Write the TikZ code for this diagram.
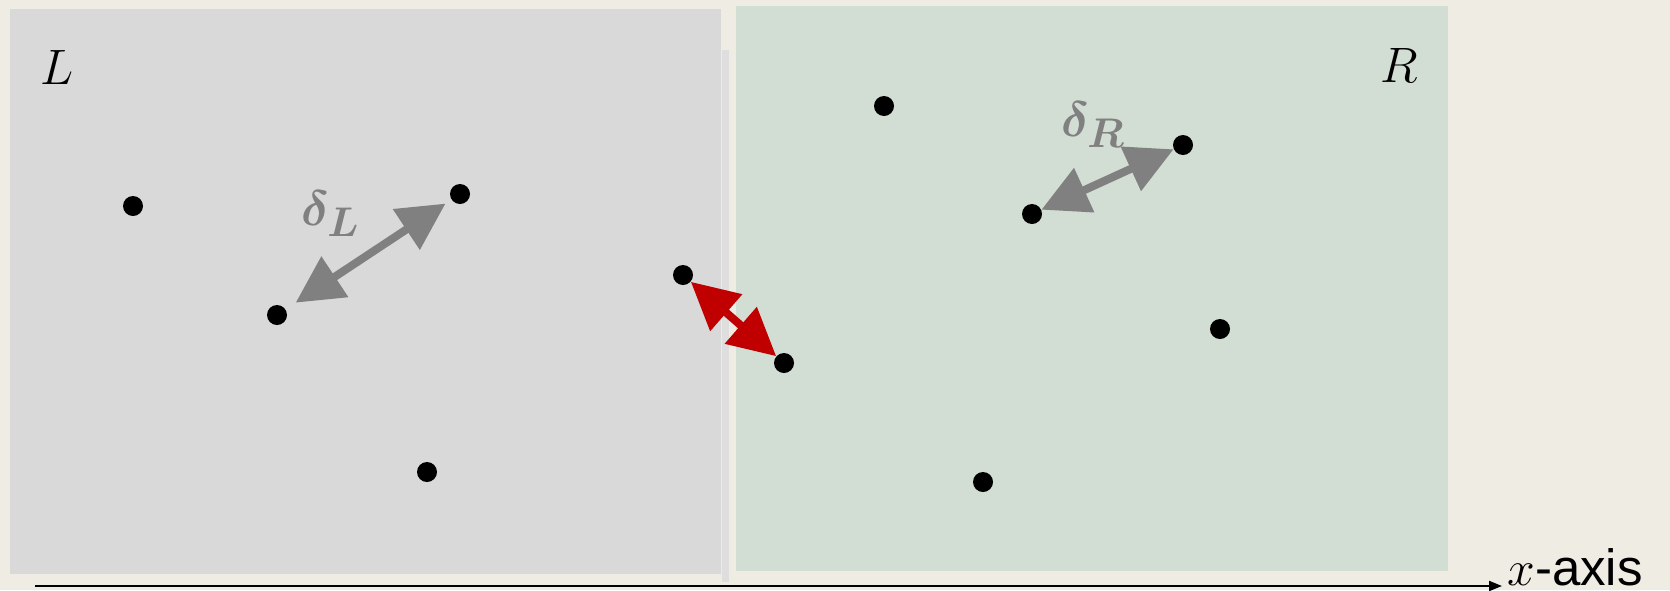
\documentclass[tikz,border=0pt]{standalone}
\usepackage{fontspec}
\setsansfont{Liberation Sans}
\usepackage{bm}
\usetikzlibrary{arrows.meta,positioning}
\definecolor{cpbg}{HTML}{EFECE4}
\definecolor{cpleft}{HTML}{D9D9D9}
\definecolor{cpright}{HTML}{D2DDD3}
\definecolor{cpstrip}{HTML}{DEDEDE}
\definecolor{cpgray}{HTML}{808080}
\definecolor{cpred}{HTML}{C00000}
\tikzset{
  cp dot/.style={circle, fill=black, inner sep=0pt, minimum size=10pt},
  cp dist/.style={{Triangle[length=23.5pt,width=23.5pt]}-{Triangle[length=23.5pt,width=23.5pt]},
    line width=4pt, draw=cpgray},
  cp closest/.style={cp dist, draw=cpred},
  cp axis/.style={-{Triangle[length=6.5pt,width=5pt]}, line width=1pt, draw=black},
  cp region/.style={font=\fontsize{29}{34}\selectfont, text=black, inner sep=0pt},
  cp delta/.style={font=\fontsize{29}{34}\selectfont, text=cpgray, inner sep=0pt},
  cp axis label/.style={font=\sffamily\fontsize{25.5}{30}\selectfont, inner sep=0pt}
}

\begin{document}
\begin{tikzpicture}[x=0.5pt, y=-0.5pt]
  \fill[cpbg] (0,0) rectangle (1670,590);
  \useasboundingbox (0,0) rectangle (1670,590);
  % the two halves and the dividing strip
  \fill[cpleft] (10,9) rectangle (721,574);
  \fill[cpright] (736,6) rectangle (1448,571);
  \fill[cpstrip] (722,50) rectangle (729,582);
  \node[cp region, anchor=base west] (lname) at (40,84) {$L$};
  \node[cp region, anchor=base east] (rname) at (1418,82) {$R$};
  % points
  \node[cp dot] (l1) at (133,206) {};
  \node[cp dot] (l2) at (460,194) {};
  \node[cp dot] (l3) at (277,315) {};
  \node[cp dot] (l4) at (427,472) {};
  \node[cp dot] (l5) at (683,275) {};
  \node[cp dot] (r1) at (784,363) {};
  \node[cp dot] (r2) at (884,106) {};
  \node[cp dot] (r3) at (1183,145) {};
  \node[cp dot] (r4) at (1032,214) {};
  \node[cp dot] (r5) at (1220,329) {};
  \node[cp dot] (r6) at (983,482) {};
  % distances
  \draw[cp dist, shorten <=6pt, shorten >=3.5pt] (l3) -- (l2);
  \draw[cp dist] (r4) -- (r3);
  \draw[cp closest] (l5) -- (r1);
  \node[cp delta, anchor=base west] (dl) at (301,225) {$\bm{\delta}_{\bm{L}}$};
  \node[cp delta, anchor=base west] (dr) at (1061,136) {$\bm{\delta}_{\bm{R}}$};
  % axis
  \coordinate (axstart) at (35,586);
  \coordinate (axend) at (1502,586);
  \draw[cp axis] (axstart) -- (axend);
  \node[cp axis label, anchor=base west] (axname) at (1507,585) {$x$-axis};
\end{tikzpicture}
\end{document}
